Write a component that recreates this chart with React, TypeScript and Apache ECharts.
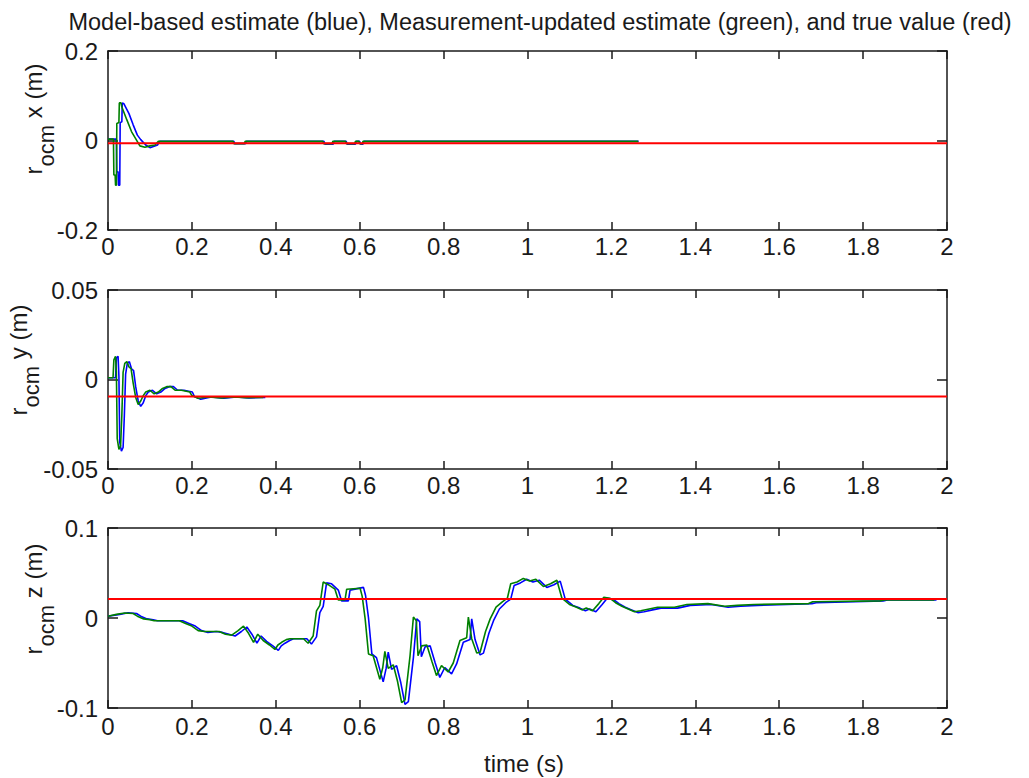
import React, { useEffect, useRef } from "react";
import * as echarts from "echarts";

const titleText = "Model-based estimate (blue), Measurement-updated estimate (green), and true value (red)";
const xAxisTitle = "time (s)";
const panelLabels = ["x", "y", "z"];

const timeMin = 0;
const timeMax = 2;
const timeStep = 0.2;

const yMins = [-0.2, -0.05, -0.1];
const yMaxs = [0.2, 0.05, 0.1];
const yIntervals = [0.2, 0.05, 0.1];

const trueX = -0.006;
const trueY = -0.0095;
const trueZ = 0.021;

const xBlue = [
  [0.0, 0.003], [0.02, 0.003], [0.021, -0.07], [0.024, -0.07], [0.025, -0.1], [0.028, -0.1],
  [0.029, 0.04], [0.033, 0.042], [0.034, 0.084], [0.038, 0.082], [0.05, 0.06], [0.06, 0.035],
  [0.07, 0.012], [0.078, 0.002], [0.09, -0.01], [0.1, -0.016], [0.11, -0.013], [0.118, -0.01],
  [0.123, -0.002], [0.3, -0.002], [0.302, -0.007], [0.328, -0.007], [0.33, -0.002],
  [0.515, -0.002], [0.517, -0.008], [0.537, -0.008], [0.539, -0.002], [0.568, -0.002],
  [0.57, -0.008], [0.59, -0.008], [0.592, -0.002], [0.6, -0.002], [0.602, -0.008],
  [0.608, -0.008], [0.61, -0.002], [1.265, -0.002]
];

const xGreen = [
  [0.0, 0.003], [0.013, 0.003], [0.014, -0.077], [0.017, -0.077], [0.018, -0.1], [0.02, -0.1],
  [0.021, 0.038], [0.026, 0.04], [0.027, 0.084], [0.031, 0.084], [0.033, 0.075], [0.045, 0.046],
  [0.056, 0.02], [0.068, 0.001], [0.076, -0.012], [0.088, -0.015], [0.1, -0.012], [0.112, -0.01],
  [0.12, -0.002], [0.298, -0.002], [0.3, -0.007], [0.325, -0.007], [0.327, -0.002],
  [0.512, -0.002], [0.514, -0.007], [0.534, -0.007], [0.536, -0.002], [0.566, -0.002],
  [0.568, -0.007], [0.588, -0.007], [0.59, -0.002], [0.598, -0.002], [0.6, -0.007],
  [0.606, -0.007], [0.608, -0.002], [1.264, -0.002]
];

const yBlue = [
  [0.0, 0.001], [0.018, 0.001], [0.02, 0.012], [0.024, 0.013], [0.026, 0.002], [0.028, -0.035],
  [0.032, -0.04], [0.036, -0.038], [0.039, -0.02], [0.042, 0.003], [0.046, 0.009], [0.051, 0.01],
  [0.056, 0.006], [0.061, 0.005], [0.066, -0.004], [0.072, -0.012], [0.078, -0.015], [0.084, -0.013],
  [0.09, -0.009], [0.096, -0.007], [0.106, -0.006], [0.116, -0.008], [0.126, -0.007], [0.136, -0.005],
  [0.146, -0.004], [0.156, -0.004], [0.166, -0.006], [0.181, -0.006], [0.201, -0.007], [0.206, -0.0095],
  [0.221, -0.011], [0.246, -0.0098], [0.276, -0.0105], [0.306, -0.0098], [0.336, -0.0103],
  [0.366, -0.01], [0.375, -0.01]
];

const yGreen = [
  [0.0, 0.001], [0.012, 0.001], [0.014, 0.011], [0.018, 0.013], [0.02, 0.004], [0.022, -0.033],
  [0.026, -0.039], [0.03, -0.037], [0.033, -0.02], [0.036, 0.004], [0.04, 0.009], [0.045, 0.01],
  [0.05, 0.007], [0.055, 0.006], [0.06, -0.002], [0.066, -0.01], [0.072, -0.014], [0.078, -0.012],
  [0.084, -0.009], [0.09, -0.007], [0.1, -0.006], [0.11, -0.008], [0.12, -0.007], [0.13, -0.005],
  [0.14, -0.004], [0.15, -0.004], [0.16, -0.006], [0.175, -0.006], [0.195, -0.007], [0.2, -0.009],
  [0.215, -0.0105], [0.24, -0.0098], [0.27, -0.0103], [0.3, -0.0098], [0.33, -0.0102],
  [0.36, -0.01], [0.37, -0.01]
];

const zBlue = [
  [0, 0.002], [0.028, 0.004], [0.048, 0.0058], [0.068, 0.005], [0.078, 0.002], [0.093, -0.001],
  [0.108, -0.002], [0.118, -0.003], [0.178, -0.003], [0.193, -0.006], [0.208, -0.009], [0.223, -0.014],
  [0.238, -0.016], [0.258, -0.015], [0.273, -0.016], [0.288, -0.018], [0.303, -0.02], [0.318, -0.015],
  [0.331, -0.01], [0.343, -0.018], [0.355, -0.028], [0.365, -0.02], [0.378, -0.026], [0.393, -0.031],
  [0.406, -0.036], [0.413, -0.031], [0.422, -0.028], [0.433, -0.025], [0.442, -0.023], [0.474, -0.023],
  [0.485, -0.029], [0.497, -0.021], [0.505, 0.006], [0.513, 0.013], [0.521, 0.039], [0.533, 0.038],
  [0.549, 0.031], [0.557, 0.019], [0.573, 0.019], [0.577, 0.031], [0.609, 0.034], [0.614, 0.025],
  [0.621, 0.0], [0.629, -0.04], [0.64, -0.044], [0.656, -0.071], [0.663, -0.056], [0.668, -0.038],
  [0.676, -0.057], [0.688, -0.053], [0.698, -0.072], [0.708, -0.096], [0.716, -0.093], [0.728, -0.044],
  [0.736, -0.001], [0.743, -0.004], [0.747, -0.043], [0.756, -0.032], [0.768, -0.031], [0.78, -0.05],
  [0.791, -0.066], [0.803, -0.055], [0.819, -0.062], [0.831, -0.051], [0.847, -0.027], [0.863, -0.024],
  [0.867, -0.001], [0.875, -0.024], [0.887, -0.041], [0.895, -0.039], [0.908, -0.017], [0.919, -0.003],
  [0.933, 0.01], [0.948, 0.017], [0.96, 0.021], [0.968, 0.036], [0.983, 0.039], [0.998, 0.043],
  [1.013, 0.04], [1.028, 0.042], [1.046, 0.034], [1.063, 0.037], [1.078, 0.041], [1.09, 0.021],
  [1.108, 0.014], [1.125, 0.011], [1.138, 0.008], [1.148, 0.01], [1.163, 0.007], [1.178, 0.015],
  [1.19, 0.022], [1.204, 0.021], [1.218, 0.016], [1.233, 0.012], [1.248, 0.009], [1.263, 0.006],
  [1.278, 0.007], [1.298, 0.009], [1.318, 0.011], [1.358, 0.011], [1.388, 0.014], [1.438, 0.015],
  [1.478, 0.012], [1.508, 0.013], [1.548, 0.014], [1.678, 0.016], [1.688, 0.017], [1.848, 0.019],
  [1.858, 0.02], [1.975, 0.02]
];

const zGreen = [
  [0, 0.002], [0.02, 0.004], [0.04, 0.0056], [0.06, 0.005], [0.07, 0.002], [0.085, -0.001],
  [0.1, -0.002], [0.11, -0.003], [0.17, -0.003], [0.185, -0.006], [0.2, -0.009], [0.215, -0.014],
  [0.23, -0.015], [0.25, -0.015], [0.265, -0.015], [0.28, -0.018], [0.295, -0.019], [0.31, -0.014],
  [0.323, -0.009], [0.335, -0.017], [0.347, -0.027], [0.357, -0.018], [0.37, -0.025], [0.385, -0.03],
  [0.398, -0.035], [0.405, -0.03], [0.414, -0.027], [0.425, -0.024], [0.434, -0.023], [0.466, -0.023],
  [0.477, -0.028], [0.489, -0.02], [0.497, 0.008], [0.505, 0.014], [0.513, 0.04], [0.525, 0.037],
  [0.541, 0.032], [0.549, 0.02], [0.565, 0.02], [0.569, 0.032], [0.601, 0.033], [0.606, 0.024],
  [0.613, -0.001], [0.621, -0.04], [0.632, -0.042], [0.648, -0.068], [0.655, -0.055], [0.66, -0.037],
  [0.668, -0.056], [0.68, -0.052], [0.69, -0.07], [0.7, -0.094], [0.708, -0.091], [0.72, -0.042],
  [0.728, 0.001], [0.735, -0.003], [0.739, -0.042], [0.748, -0.031], [0.76, -0.03], [0.772, -0.048],
  [0.783, -0.064], [0.795, -0.053], [0.811, -0.06], [0.823, -0.05], [0.839, -0.025], [0.855, -0.022],
  [0.859, 0.001], [0.867, -0.023], [0.879, -0.039], [0.887, -0.038], [0.9, -0.015], [0.911, -0.001],
  [0.925, 0.012], [0.94, 0.018], [0.952, 0.022], [0.96, 0.038], [0.975, 0.04], [0.99, 0.044],
  [1.005, 0.041], [1.02, 0.043], [1.038, 0.035], [1.055, 0.038], [1.07, 0.042], [1.082, 0.022],
  [1.1, 0.015], [1.117, 0.012], [1.13, 0.009], [1.14, 0.011], [1.155, 0.008], [1.17, 0.016],
  [1.182, 0.023], [1.196, 0.022], [1.21, 0.017], [1.225, 0.013], [1.24, 0.01], [1.255, 0.007],
  [1.27, 0.008], [1.29, 0.01], [1.31, 0.012], [1.35, 0.012], [1.38, 0.015], [1.43, 0.016],
  [1.47, 0.013], [1.5, 0.014], [1.54, 0.015], [1.67, 0.016], [1.68, 0.018], [1.84, 0.019],
  [1.85, 0.02], [1.97, 0.02]
];

const FONT = "'Liberation Sans', Arial, Helvetica, sans-serif";
const INK = "#1a1a1a";

export default function App() {
  const ref = useRef<HTMLDivElement>(null);

  useEffect(() => {
    if (!ref.current) return;
    const chart = echarts.init(ref.current, null, { renderer: "svg" });

    const gridTops = [51, 290, 528];
    const gridHeights = [179, 179, 180];
    const labelMargins = [4, 4, 6];
    const blues = [xBlue, yBlue, zBlue];
    const greens = [xGreen, yGreen, zGreen];
    const trues = [trueX, trueY, trueZ];
    const ylabelX = [39, 24, 39];
    const ylabelY = [119, 360, 599];

    const grid: any[] = [];
    const xAxis: any[] = [];
    const yAxis: any[] = [];
    const series: any[] = [];
    const graphic: any[] = [];

    const axisLine = { show: true, onZero: false, lineStyle: { color: INK, width: 1.5 } };

    for (let i = 0; i < 3; i++) {
      grid.push({ left: 108, top: gridTops[i], width: 839, height: gridHeights[i], containLabel: false });
      xAxis.push({
        type: "value", gridIndex: i, position: "bottom", min: timeMin, max: timeMax, interval: timeStep,
        axisLine, splitLine: { show: false },
        axisTick: { show: true, inside: true, length: 8, lineStyle: { color: INK, width: 1.5 } },
        axisLabel: { show: true, margin: labelMargins[i], fontSize: 24, color: INK, fontFamily: FONT },
      });
      xAxis.push({
        type: "value", gridIndex: i, position: "top", min: timeMin, max: timeMax, interval: timeStep,
        axisLine, splitLine: { show: false },
        axisTick: { show: true, inside: true, length: 8, lineStyle: { color: INK, width: 1.5 } },
        axisLabel: { show: false },
      });
      yAxis.push({
        type: "value", gridIndex: i, position: "left", min: yMins[i], max: yMaxs[i], interval: yIntervals[i],
        axisLine, splitLine: { show: false },
        axisTick: { show: true, inside: true, length: 10, lineStyle: { color: INK, width: 1.5 } },
        axisLabel: { show: true, margin: 10, fontSize: 24, color: INK, fontFamily: FONT },
      });
      yAxis.push({
        type: "value", gridIndex: i, position: "right", min: yMins[i], max: yMaxs[i], interval: yIntervals[i],
        axisLine, splitLine: { show: false },
        axisTick: { show: true, inside: true, length: 10, lineStyle: { color: INK, width: 1.5 } },
        axisLabel: { show: false },
      });

      series.push({
        type: "line", xAxisIndex: 2 * i, yAxisIndex: 2 * i, data: blues[i], showSymbol: false,
        symbol: "none", lineStyle: { color: "#0000ff", width: 1.6 }, z: 2, silent: true,
      });
      series.push({
        type: "line", xAxisIndex: 2 * i, yAxisIndex: 2 * i, data: greens[i], showSymbol: false,
        symbol: "none", lineStyle: { color: "#008000", width: 1.6 }, z: 3, silent: true,
      });
      series.push({
        type: "line", xAxisIndex: 2 * i, yAxisIndex: 2 * i,
        data: [[timeMin, trues[i]], [timeMax, trues[i]]], showSymbol: false,
        symbol: "none", lineStyle: { color: "#ff0000", width: 2 }, z: 4, silent: true,
      });

      graphic.push({
        type: "text", x: ylabelX[i], y: ylabelY[i], rotation: Math.PI / 2,
        style: {
          text: "{a|r}{s|ocm}{a| " + panelLabels[i] + " (m)}",
          align: "center", verticalAlign: "middle", fill: INK,
          rich: {
            a: { fontSize: 24, lineHeight: 24, verticalAlign: "top", fontFamily: FONT, fill: INK },
            s: { fontSize: 22, lineHeight: 36, verticalAlign: "bottom", fontFamily: FONT, fill: INK },
          },
        },
      });
    }

    graphic.push({
      type: "text", x: 540, y: 22,
      style: { text: titleText, align: "center", verticalAlign: "middle", fontSize: 23.5, fontFamily: FONT, fill: INK },
    });
    graphic.push({
      type: "text", x: 524, y: 763,
      style: { text: xAxisTitle, align: "center", verticalAlign: "middle", fontSize: 24, fontFamily: FONT, fill: INK },
    });

    chart.setOption({
      animation: false,
      backgroundColor: "#ffffff",
      grid, xAxis, yAxis, series, graphic,
    });

    return () => chart.dispose();
  }, []);

  return (
    <div
      ref={ref}
      style={{ position: "fixed", left: 0, top: 0, width: 1029, height: 778, background: "#fff" }}
    />
  );
}
